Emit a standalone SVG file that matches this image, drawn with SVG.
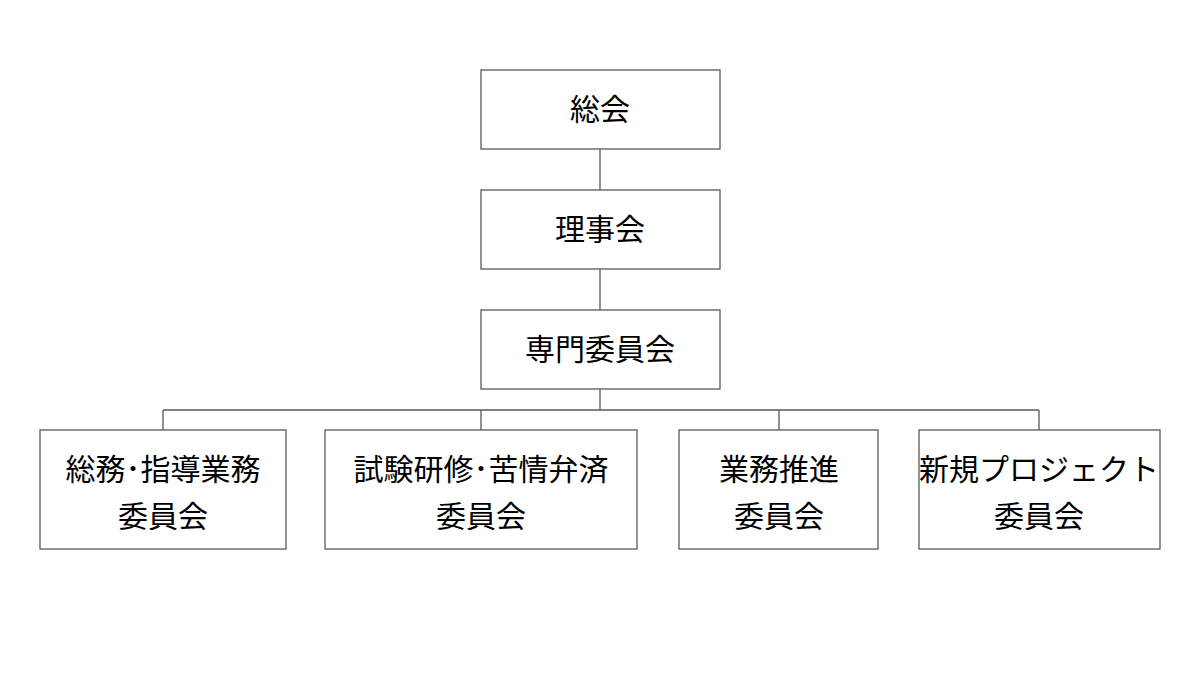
<svg xmlns="http://www.w3.org/2000/svg" width="1200" height="700" viewBox="0 0 1200 700">
<style>
.b{fill:#fff;stroke:#595959;stroke-width:1.3}
.t{font-family:"Noto Sans CJK JP","Noto Sans CJK SC",sans-serif;font-size:30px;fill:#000;text-anchor:middle}
.c{stroke:#595959;stroke-width:1.3;fill:none}
</style>
<rect width="1200" height="700" fill="#fff"/>
<g id="connectors">
<path class="c" d="M600 149V190M600 269V310M600 389V410M163 410H1039M163 410V430M481 410V430M779 410V430M1039 410V430"/>
</g>
<g id="n1"><rect class="b" x="481" y="70" width="239" height="79"/><text class="t" x="600" y="120">総会</text></g>
<g id="n2"><rect class="b" x="481" y="190" width="239" height="79"/><text class="t" x="600" y="240">理事会</text></g>
<g id="n3"><rect class="b" x="481" y="310" width="239" height="79"/><text class="t" x="600" y="360">専門委員会</text></g>
<g id="n4"><rect class="b" x="40" y="430" width="246" height="119"/><text class="t" x="163" y="480">総務･指導業務</text><text class="t" x="163" y="527">委員会</text></g>
<g id="n5"><rect class="b" x="325" y="430" width="312" height="119"/><text class="t" x="481" y="480">試験研修･苦情弁済</text><text class="t" x="481" y="527">委員会</text></g>
<g id="n6"><rect class="b" x="679" y="430" width="199" height="119"/><text class="t" x="779" y="480">業務推進</text><text class="t" x="779" y="527">委員会</text></g>
<g id="n7"><rect class="b" x="919" y="430" width="241" height="119"/><text class="t" x="1039" y="480">新規プロジェクト</text><text class="t" x="1039" y="527">委員会</text></g>
</svg>
